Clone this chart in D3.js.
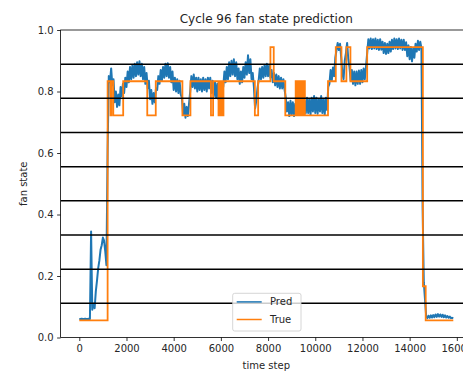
<!DOCTYPE html>
<html>
<head>
<meta charset="utf-8">
<script src="https://cdn.jsdelivr.net/npm/d3@7"></script>
<style>
  body { margin: 0; background: #fff; }
  text { font-family: "DejaVu Sans", sans-serif; fill: #262626; }
</style>
</head>
<body>
<div id="chart"></div>
<script>
// data
var predStep = 50; // pred sampled every 50 time steps from 0
var predValues = [
  0.060,0.060,0.061,0.060,0.060,0.061,0.060,0.060,0.061,0.060,
  0.345,0.090,0.110,0.095,0.150,0.185,0.225,0.250,0.285,0.300,
  0.325,0.315,0.280,0.235,0.610,0.850,0.830,0.875,0.820,0.840,
  0.765,0.800,0.750,0.790,0.755,0.815,0.785,0.825,0.795,0.845,
  0.815,0.865,0.830,0.880,0.840,0.885,0.845,0.890,0.850,0.895,
  0.855,0.898,0.850,0.890,0.840,0.880,0.825,0.860,0.810,0.835,
  0.775,0.805,0.760,0.795,0.765,0.810,0.805,0.850,0.825,0.870,
  0.835,0.880,0.845,0.890,0.850,0.892,0.845,0.880,0.830,0.865,
  0.805,0.845,0.800,0.840,0.795,0.835,0.790,0.780,0.725,0.760,
  0.715,0.750,0.720,0.760,0.800,0.850,0.815,0.855,0.810,0.845,
  0.800,0.845,0.805,0.840,0.800,0.845,0.805,0.840,0.800,0.845,
  0.810,0.845,0.795,0.835,0.785,0.830,0.780,0.825,0.775,0.820,
  0.780,0.830,0.815,0.865,0.830,0.880,0.840,0.895,0.850,0.900,
  0.855,0.905,0.850,0.895,0.840,0.875,0.825,0.865,0.830,0.880,
  0.845,0.895,0.855,0.918,0.860,0.905,0.840,0.860,0.815,0.745,
  0.770,0.810,0.835,0.875,0.840,0.880,0.845,0.885,0.850,0.890,
  0.850,0.885,0.845,0.870,0.830,0.860,0.820,0.855,0.815,0.850,
  0.810,0.845,0.810,0.840,0.805,0.780,0.735,0.765,0.720,0.770,
  0.725,0.765,0.720,0.760,0.725,0.765,0.725,0.760,0.725,0.765,
  0.725,0.770,0.730,0.780,0.730,0.775,0.725,0.780,0.735,0.785,
  0.730,0.780,0.728,0.775,0.735,0.785,0.730,0.775,0.725,0.780,
  0.740,0.815,0.825,0.870,0.835,0.878,0.850,0.910,0.935,0.958,
  0.935,0.955,0.910,0.860,0.840,0.900,0.925,0.958,0.905,0.880,
  0.835,0.870,0.825,0.865,0.820,0.865,0.825,0.868,0.825,0.870,
  0.830,0.875,0.840,0.880,0.925,0.970,0.940,0.972,0.938,0.970,
  0.940,0.972,0.938,0.968,0.935,0.970,0.936,0.962,0.925,0.958,
  0.922,0.955,0.925,0.962,0.930,0.968,0.938,0.972,0.940,0.970,
  0.938,0.972,0.940,0.968,0.935,0.968,0.935,0.960,0.915,0.950,
  0.905,0.945,0.898,0.940,0.910,0.955,0.930,0.965,0.935,0.962,
  0.940,0.420,0.180,0.125,0.070,0.063,0.071,0.064,0.072,0.065,
  0.073,0.066,0.075,0.067,0.076,0.068,0.075,0.067,0.074,0.066,
  0.072,0.065,0.070,0.064,0.068,0.063,0.064,0.062
];

// true fan state: value holds from each time until the next one
var trueTimes = [0, 1200, 1320, 1360, 1440, 1860, 2880, 3240, 4370, 4710,
  5580, 5670, 5900, 5930, 5970, 6000, 6040, 6070, 6090, 6110,
  7440, 7580, 8100, 8240, 8730, 9170, 9210, 9240, 9280, 9310,
  9350, 9380, 9420, 9450, 9490, 9520, 9560, 10540, 10870, 11110,
  11320, 11490, 12200, 14560, 14680, 15850];
var trueValues = [0.0556, 0.8333, 0.7222, 0.8333, 0.7222, 0.8333, 0.7222, 0.8333, 0.7222, 0.8333,
  0.7222, 0.8333, 0.7222, 0.8333, 0.7222, 0.8333, 0.7222, 0.8333, 0.7222, 0.8333,
  0.7222, 0.8333, 0.9444, 0.8333, 0.7222, 0.8333, 0.7222, 0.8333, 0.7222, 0.8333,
  0.7222, 0.8333, 0.7222, 0.8333, 0.7222, 0.8333, 0.7222, 0.8333, 0.9444, 0.8333,
  0.9444, 0.8333, 0.9444, 0.1667, 0.0556, 0.0556];

var classLines = [1/9, 2/9, 3/9, 4/9, 5/9, 6/9, 7/9, 8/9];
var xTicks = [0, 2000, 4000, 6000, 8000, 10000, 12000, 14000, 16000];
var yTicks = [0, 0.2, 0.4, 0.6, 0.8, 1.0];
var seriesNames = ["Pred", "True"];
var seriesColors = ["#1f77b4", "#ff7f0e"];

(function() {
var width = 463,
  height = 374;
var pLeft = 60.6, pRight = 472, pTop = 30, pBottom = 337.5;

var svg = d3.select("#chart")
  .append("svg")
  .attr("width", width)
  .attr("height", height)

var x = d3.scaleLinear().domain([-792.5, 16642.5]).range([pLeft, pRight]);
var y = d3.scaleLinear().domain([0, 1]).range([pBottom, pTop]);

svg.append("clipPath").attr("id", "plot")
  .append("rect")
  .attr("x", pLeft).attr("y", pTop)
  .attr("width", pRight - pLeft).attr("height", pBottom - pTop)

var plot = svg.append("g").attr("clip-path", "url(#plot)")

var pred = predValues.map(function(v, i) { return [i * predStep, v] })
var truth = trueTimes.map(function(t, i) { return [t, trueValues[i]] })

var line = d3.line()
  .x(function(d) { return x(d[0]) })
  .y(function(d) { return y(d[1]) })

plot.append("path")
  .datum(pred)
  .attr("fill", "none")
  .attr("stroke", seriesColors[0])
  .attr("stroke-width", 2)
  .attr("stroke-linejoin", "round")
  .attr("d", line)

plot.append("path")
  .datum(truth)
  .attr("fill", "none")
  .attr("stroke", seriesColors[1])
  .attr("stroke-width", 1.8)
  .attr("d", line.curve(d3.curveStepAfter))

plot.selectAll(".cls")
  .data(classLines)
  .enter().append("line")
  .attr("class", "cls")
  .attr("x1", pLeft).attr("x2", pRight)
  .attr("y1", function(d) { return y(d) })
  .attr("y2", function(d) { return y(d) })
  .attr("stroke", "#000")
  .attr("stroke-width", 1.5)

// axes
var xAxis = svg.append("g")
  .attr("transform", "translate(0," + pBottom + ")")
  .call(d3.axisBottom(x).tickValues(xTicks).tickFormat(d3.format("d")).tickSize(3.5).tickPadding(3.5))
var yAxis = svg.append("g")
  .attr("transform", "translate(" + pLeft + ",0)")
  .call(d3.axisLeft(y).tickValues(yTicks).tickFormat(d3.format(".1f")).tickSize(3.5).tickPadding(3.5))

;[xAxis, yAxis].forEach(function(a) {
  a.select(".domain").remove()
  a.selectAll("line").attr("stroke", "#000").attr("stroke-width", 0.8)
  a.selectAll("text").attr("font-size", "10px").attr("fill", "#262626")
    .style("font-family", "'DejaVu Sans', sans-serif")
})

svg.append("rect")
  .attr("x", pLeft).attr("y", pTop)
  .attr("width", pRight - pLeft).attr("height", pBottom - pTop)
  .attr("fill", "none")
  .attr("stroke", "#000")
  .attr("stroke-width", 0.8)

svg.append("text")
  .attr("x", (pLeft + pRight) / 2).attr("y", 23)
  .attr("text-anchor", "middle")
  .attr("font-size", "12px")
  .text("Cycle 96 fan state prediction")

svg.append("text")
  .attr("x", (pLeft + pRight) / 2).attr("y", 369)
  .attr("text-anchor", "middle")
  .attr("font-size", "10px")
  .text("time step")

svg.append("text")
  .attr("transform", "translate(26.5," + ((pTop + pBottom) / 2) + ") rotate(-90)")
  .attr("text-anchor", "middle")
  .attr("font-size", "10px")
  .text("fan state")

// legend
var legend = svg.append("g").attr("transform", "translate(232.7,293.3)")
legend.append("rect")
  .attr("width", 68.3).attr("height", 37.7)
  .attr("rx", 2)
  .attr("fill", "#fff").attr("fill-opacity", 0.8)
  .attr("stroke", "#ccc").attr("stroke-width", 0.8)

var items = legend.selectAll(".item")
  .data(seriesNames)
  .enter().append("g")
  .attr("class", "item")
  .attr("transform", function(d, i) { return "translate(0," + (8.6 + i * 17.6) + ")" })
items.append("line")
  .attr("x1", 4).attr("x2", 29)
  .attr("stroke", function(d, i) { return seriesColors[i] })
  .attr("stroke-width", 1.5)
items.append("text")
  .attr("x", 37.3).attr("dy", "0.35em")
  .attr("font-size", "10px")
  .text(function(d) { return d })
})();
</script>
</body>
</html>
